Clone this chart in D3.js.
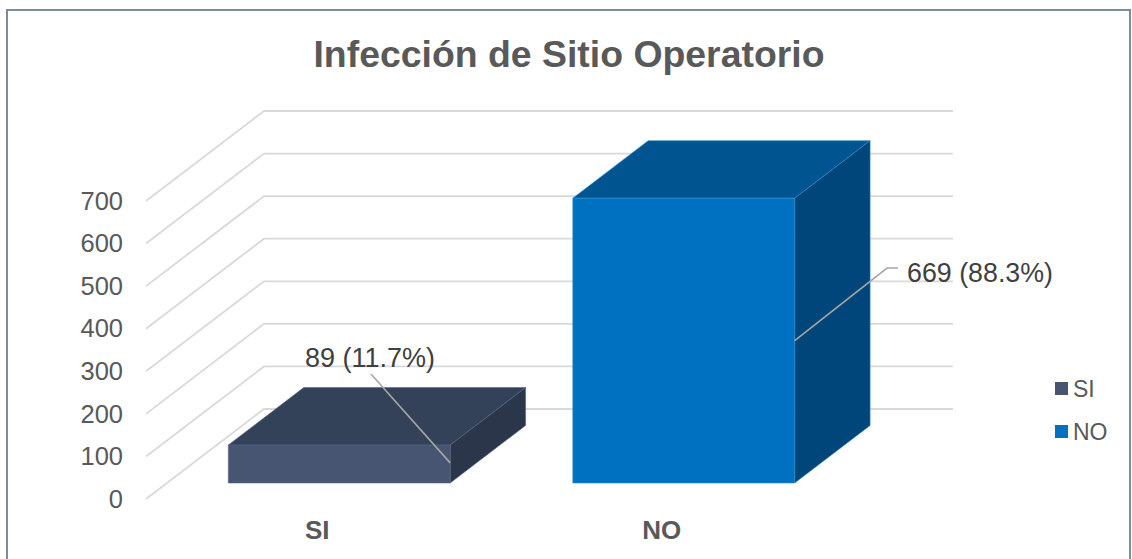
<!DOCTYPE html>
<html><head><meta charset="utf-8">
<script src="https://cdn.jsdelivr.net/npm/d3@7"></script>
<style>html,body{margin:0;padding:0;background:#fff}svg{display:block}text{font-family:"Liberation Sans",Arial,sans-serif}</style>
</head><body><svg id="c" width="1132" height="559"></svg>
<script>
const title = "Infección de Sitio Operatorio";
const categories = ["SI", "NO"];
const values = [89, 669];
const dataLabels = ["89 (11.7%)", "669 (88.3%)"];
const tickValues = [0, 100, 200, 300, 400, 500, 600, 700];
const frontColors = ["#475573", "#0070c0"];
const topColors = ["#334259", "#005591"];
const sideColors = ["#2c364a", "#00467a"];
const edgeColors = ["#55647f", "#2a86c8"];

const W = 1132, H = 559;
const svg = d3.select("#c");
const y = d3.scaleLinear().domain([0, 700]).range([499, 201]);
const x = d3.scaleBand().domain(categories).range([146, 835]).paddingInner(0.356).paddingOuter(0.178);
const DX = 118, DY = -90;
const depthStart = 0.178, depthEnd = 0.817;
const P = (px, v, d) => [px + DX * d, y(v) + DY * d];
const line = d3.line();
const grey = "#595959";

svg.append("rect").attr("x", 7).attr("y", 10).attr("width", 1123).attr("height", 570)
  .attr("fill", "#fff").attr("stroke", "#7a8f94").attr("stroke-width", 2);

svg.append("text").attr("x", 569).attr("y", 67).attr("text-anchor", "middle")
  .attr("font-size", 37.4).attr("font-weight", "bold").attr("fill", grey).text(title);

const right = x.range()[1];
const gridG = svg.append("g");
tickValues.forEach(t => {
  gridG.append("path").attr("fill", "none").attr("stroke", "#d9d9d9").attr("stroke-width", 1.8)
    .attr("d", line([P(146, t, 0), P(146, t, 1), P(right, t, 1)]));
});
const axisG = svg.append("g").attr("transform", "translate(134,0)")
  .call(d3.axisLeft(y).tickValues(tickValues).tickSize(0).tickPadding(0).tickFormat(d3.format("d")));
axisG.select(".domain").remove();
axisG.selectAll("text").attr("x", -11).attr("font-size", 25.5).attr("fill", grey)
  .style("font-family", '"Liberation Sans",Arial,sans-serif');

categories.forEach((c, i) => {
  const l = x(c), r = l + x.bandwidth(), v = values[i];
  const g = svg.append("g").attr("stroke", edgeColors[i]).attr("stroke-width", 0.6).attr("stroke-linejoin", "round");
  g.append("path").attr("fill", topColors[i])
    .attr("d", line([P(l, v, depthStart), P(r, v, depthStart), P(r, v, depthEnd), P(l, v, depthEnd)]) + "Z");
  g.append("path").attr("fill", sideColors[i])
    .attr("d", line([P(r, 0, depthStart), P(r, v, depthStart), P(r, v, depthEnd), P(r, 0, depthEnd)]) + "Z");
  g.append("path").attr("fill", frontColors[i])
    .attr("d", line([P(l, 0, depthStart), P(r, 0, depthStart), P(r, v, depthStart), P(l, v, depthStart)]) + "Z");
  svg.append("text").attr("x", x(c) + x.bandwidth() / 2 - 1).attr("y", 539).attr("text-anchor", "middle")
    .attr("font-size", 26).attr("font-weight", "bold").attr("fill", grey).text(c);
});

// leader lines: anchored on the front-right edge of each bar
const leaderEnds = [[[371, 374]], [[887, 268], [898, 268]]];
const leaderFrac = [0.53, 0.5];
categories.forEach((c, i) => {
  const r = x(c) + x.bandwidth();
  const a = P(r, values[i] * leaderFrac[i], depthStart);
  svg.append("path").attr("fill", "none").attr("stroke", "#a6a6a6").attr("stroke-width", 1.6)
    .attr("d", line([a, ...leaderEnds[i]]));
});

const labelPos = [[305, 367], [907, 282]];
const labelSize = [27, 26.8];
dataLabels.forEach((t, i) => {
  svg.append("text").attr("x", labelPos[i][0]).attr("y", labelPos[i][1])
    .attr("font-size", labelSize[i]).attr("fill", "#404040").text(t);
});

const legendY = d3.scalePoint().domain(categories).range([382, 425]);
categories.forEach((c, i) => {
  svg.append("rect").attr("x", 1055).attr("y", legendY(c)).attr("width", 13).attr("height", 13).attr("fill", frontColors[i]);
  svg.append("text").attr("x", 1073).attr("y", legendY(c) + 15).attr("font-size", 23).attr("fill", grey).text(c);
});
</script></body></html>
